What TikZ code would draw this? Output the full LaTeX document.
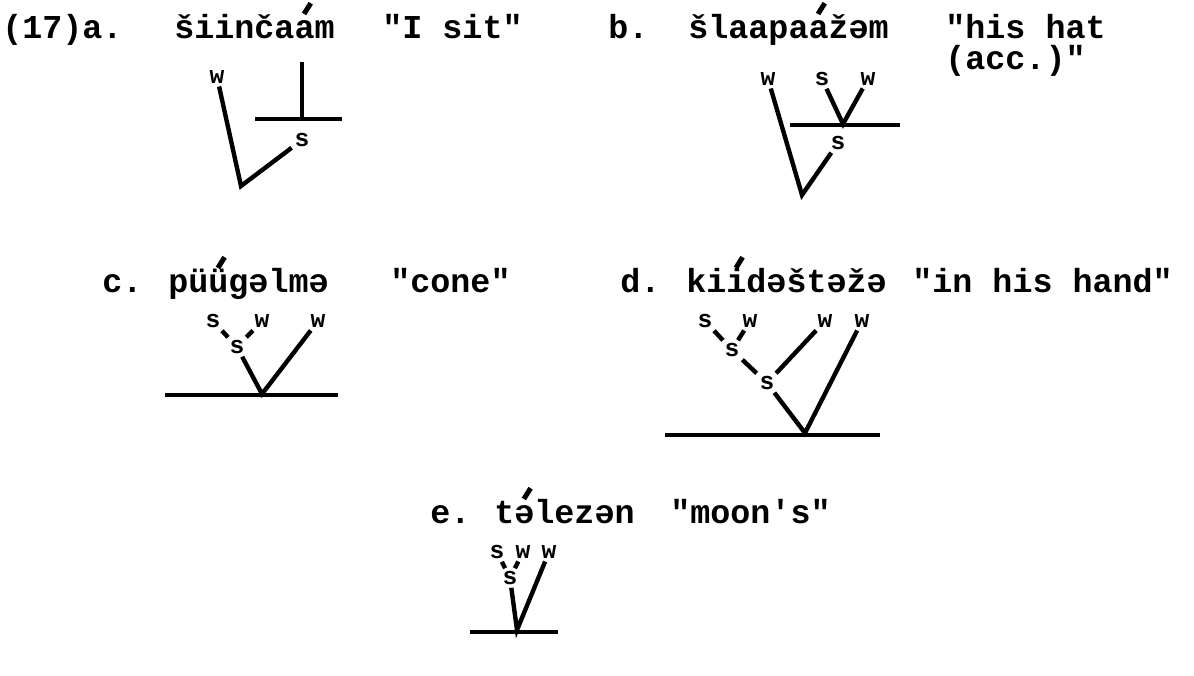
\documentclass[tikz,border=0pt]{standalone}
\usepackage{fontspec}
\setmonofont{Liberation Mono}
% stress stroke over one letter
\newcommand\acc[1]{\makebox[0pt][l]{\raisebox{0.76em}{\hspace{0.22em}\rotatebox{-32}{\rule{0.15em}{0.38em}}}}#1}
\begin{document}
\begin{tikzpicture}[x=0.02cm,y=-0.02cm,
  every node/.style={font=\ttfamily\bfseries\fontsize{19}{22}\selectfont,inner sep=0pt},
  txt/.style={anchor=base west},
  lbl/.style={font=\ttfamily\bfseries\fontsize{14}{16}\selectfont,inner sep=1.5pt},
  br/.style={line width=2.5pt}]
\useasboundingbox (0,0) rectangle (1194,676);
% (a)
\node[txt] (numa) at (2,38) {(17)a.};
\node[txt] (worda) at (174,38) {šiinča\acc{a}m};
\node[txt] (glossa) at (382,38) {"I sit"};
\node[lbl] (aw) at (217,77) {w};
\node[lbl] (as) at (302,140) {s};
\coordinate (atop) at (302,62);
\coordinate (abar) at (302,119);
\coordinate (al) at (255,119);
\coordinate (ar) at (342,119);
\coordinate (aroot) at (241,186);
\draw[br] (aw) -- (aroot) -- (as);
\draw[br] (atop) -- (abar);
\draw[br] (al) -- (ar);
% (b)
\node[txt] (numb) at (608,38) {b.};
\node[txt] (wordb) at (688,38) {šlaapa\acc{a}žəm};
\node[txt] (glossb) at (945,38) {"his hat};
\node[txt] (glossb2) at (945,70) {(acc.)"};
\node[lbl] (bw1) at (768,79) {w};
\node[lbl] (bs1) at (822,79) {s};
\node[lbl] (bw2) at (868,79) {w};
\node[lbl] (bs2) at (838,143) {s};
\coordinate (bj) at (843,124);
\coordinate (bl) at (790,125);
\coordinate (br) at (900,125);
\coordinate (broot) at (802,195);
\draw[br] (bw1) -- (broot) -- (bs2);
\draw[br] (bs1) -- (bj) -- (bw2);
\draw[br] (bl) -- (br);
% (c)
\node[txt] (numc) at (102,292) {c.};
\node[txt] (wordc) at (168,292) {pü\acc{ü}gəlmə};
\node[txt] (glossc) at (390,292) {"cone"};
\node[lbl] (cs1) at (213,321) {s};
\node[lbl] (cw1) at (262,321) {w};
\node[lbl] (cw2) at (318,321) {w};
\node[lbl] (cs2) at (237,347) {s};
\coordinate (croot) at (262,394);
\coordinate (cl) at (165,395);
\coordinate (cr) at (338,395);
\draw[br] (cs1) -- (cs2) -- (cw1);
\draw[br] (cs2) -- (croot) -- (cw2);
\draw[br] (cl) -- (cr);
% (d)
\node[txt] (numd) at (620,292) {d.};
\node[txt] (wordd) at (686,292) {ki\acc{i}dəštəžə};
\node[txt] (glossd) at (912,292) {"in his hand"};
\node[lbl] (ds1) at (705,321) {s};
\node[lbl] (dw1) at (750,321) {w};
\node[lbl] (dw2) at (825,321) {w};
\node[lbl] (dw3) at (862,321) {w};
\node[lbl] (ds2) at (732,350) {s};
\node[lbl] (ds3) at (767,383) {s};
\coordinate (droot) at (805,433);
\coordinate (dl) at (665,435);
\coordinate (dr) at (880,435);
\draw[br] (ds1) -- (ds2) -- (dw1);
\draw[br] (ds2) -- (ds3) -- (dw2);
\draw[br] (ds3) -- (droot) -- (dw3);
\draw[br] (dl) -- (dr);
% (e)
\node[txt] (nume) at (430,523) {e.};
\node[txt] (worde) at (494,523) {t\acc{ə}lezən};
\node[txt] (glosse) at (670,523) {"moon's"};
\node[lbl] (es1) at (497,552) {s};
\node[lbl] (ew1) at (523,552) {w};
\node[lbl] (ew2) at (549,552) {w};
\node[lbl] (es2) at (510,578) {s};
\coordinate (eroot) at (517,630);
\coordinate (el) at (470,632);
\coordinate (er) at (558,632);
\draw[br] (es1) -- (es2) -- (ew1);
\draw[br] (es2) -- (eroot) -- (ew2);
\draw[br] (el) -- (er);
\end{tikzpicture}
\end{document}
